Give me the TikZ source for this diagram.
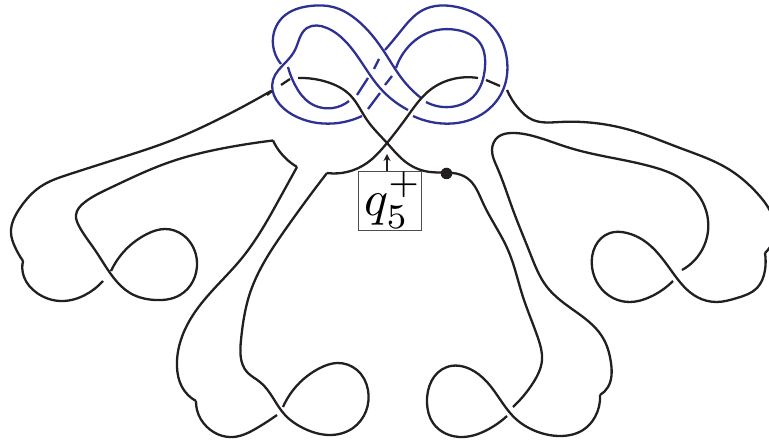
\documentclass[tikz,border=0pt]{standalone}
\usetikzlibrary{arrows.meta,hobby}
\definecolor{knotblack}{HTML}{231F20}
\definecolor{knotblue}{HTML}{2E3192}
\tikzset{
  kn/.style={draw=knotblack,line width=2.3pt,line cap=butt,line join=round,use Hobby shortcut},
  bl/.style={draw=knotblue,line width=2.3pt,line cap=butt,line join=round,use Hobby shortcut},
}
\begin{document}
\begin{tikzpicture}[x=1pt,y=-1pt]
\useasboundingbox (0,0) rectangle (769,443);
\clip (0,0) rectangle (769,443);
% blue
\draw[bl] (281,64)..(273,45)..(283,17)..(310,6)..(333,7)..(357,20)..(385,53)..(403,80)..(421,98);
\draw[bl] (426,102)..(450,107)..(473,97)..(485,67)..(480,43)..(457,30)..(430,32)..(410,45)..(396,68);
\draw[bl] (392,76)--(385,85);
\draw[bl] (380,93)--(368,109);
\draw[bl] (362,116)..(333,123.5)..(293,115)..(273,80)..(286,62)..(295,50)..(307,28)..(327,28)..(347,43)..(380,88)..(408,110);
\draw[bl] (413,116)..(437,123)..(477,117)..(503,90)..(507,60)..(493,27)..(457,7)..(423,10)..(400,32)..(385,50);
\draw[bl] (379,59)--(374,69);
\draw[bl] (368,78)--(357,95);
\draw[bl] (349,101)..(333,108)..(310,103)..(295,85)..(288,67);
% black
\draw[kn] (271,91)..(215,121)..(170,141)..(120,158)..(70,174)..(40,187)..(20,208)..(11,233)..(15,247)..(23,261);
\draw[kn] (23,261)..(24,277)..(37,293)..(60,301)..(85,295)..(103,281);
\draw[kn] (111,271)..(147,234)..(165,229)..(183,235)..(197,262)..(180,295)..(155,300)..(130,293)..(113,277)..(95,250)..(79,226)..(76,215)..(85,202)..(110,188)..(170,162)..(230,147)..(273,140.5);
\draw[kn] (273,140.5)..(280,152)..(297,167);
\draw[kn] (297,167)..(281,196)..(242,258)..(193,315)..(177,367)..(182,387)..(196,401);
\draw[kn] (196,401)..(197,410)..(207,427)..(233,437)..(257,428)..(277,415);
\draw[kn] (283,407)..(320,368)..(337,363)..(357,370)..(368,390)..(353,428)..(330,435)..(303,428)..(285,415)..(260,382)..(247,372)..(241,340)..(250,293)..(285,230)..(327,173);
\draw[kn] (327,173)..(347,172)..(367,163)..(387,143)..(407,117)..(430,90)..(453,79)..(478,78);
\draw[kn] (486,80)--(500,86);
\draw[kn] (507,90)..(518,108)..(533,120)..(560,122)..(630,130)..(680,148)..(730,170)..(757,193)..(775,232)..(765,253);
\draw[kn] (765,253)..(765,270)..(757,288)..(737,298)..(717,302)..(697,297)..(673,273)..(643,240)..(627,233)..(610,233)..(592,267)..(613,298)..(630,302)..(650,297)..(673,281);
\draw[kn] (682,270)..(708,220)..(680,178)..(653,167)..(570,148)..(540,138)..(512,133)..(498,137)..(492,150)..(497,167)..(513,210)..(530,253)..(547,287)..(560,300)..(603,338)..(611,363)..(608,387)..(600,395);
\draw[kn] (600,395)..(595,417)..(583,430)..(560,436)..(533,430)..(517,420)..(487,382)..(470,369)..(447,367)..(427,403)..(433,423)..(463,437)..(487,430)..(507,416);
\draw[kn] (513,407)..(533,383)..(542,360)..(538,338)..(523,297)..(508,250)..(483,203)..(467,178)..(453,173)..(430,172)..(407,163)..(387,143)..(367,120)..(350,95)..(327,82)..(298,78);
\draw[kn] (290,79)--(281,85);
\draw[kn] (272,91)--(267,95);
% marks
\node[circle,fill=knotblack,inner sep=0pt,minimum size=11.5pt] (dot) at (446.5,173.5) {};
\node[draw=black!70,line width=0.9pt,inner sep=0pt,minimum width=62pt,minimum height=59pt,fill=white] (lab) at (390,200.5) {\hspace{6pt}\scalebox{5}{$q_5^+$}};
\coordinate (tip) at (387,154);
\draw[knotblack,line width=1.6pt,-{Stealth[length=7pt,width=7pt]}] (tip |- lab.north) -- (tip);
\end{tikzpicture}
\end{document}
